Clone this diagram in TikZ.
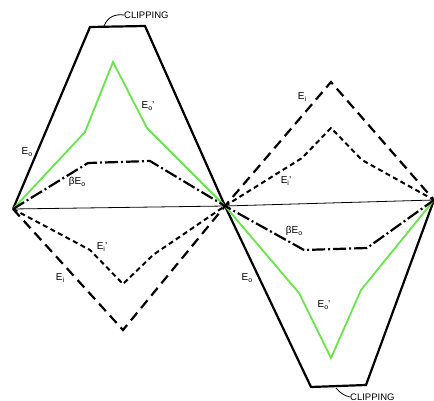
\documentclass[tikz,border=0pt]{standalone}
\usepackage{fontspec}
\setmainfont{Liberation Sans}
\definecolor{lgreen}{RGB}{105,228,75}
\newcommand{\sbo}[1]{\raisebox{-0.35ex}{\fontsize{7}{7}\selectfont #1}}
\begin{document}
\begin{tikzpicture}[x=1pt,y=-1pt,
  solidw/.style={line width=2.2pt,black,line join=miter},
  greenw/.style={line width=1.8pt,lgreen},
  longdash/.style={line width=2.2pt,black,dash pattern=on 10pt off 6pt},
  shortdash/.style={line width=2pt,black,dash pattern=on 5pt off 3.5pt},
  dashdot/.style={line width=2.2pt,black,dash pattern=on 13pt off 3pt on 2pt off 3pt},
  lbl/.style={font=\fontsize{10}{11}\selectfont,inner sep=0pt},
  clbl/.style={font=\fontsize{9.5}{10}\selectfont,inner sep=0pt}]
\useasboundingbox (0,0) rectangle (434,401);
\coordinate (L) at (13,209);
\coordinate (M) at (225,206);
\coordinate (R) at (434,200);
% axis
\draw[line width=0.8pt] (L) -- (M) -- (R);
% E0 solid
\coordinate (a1) at (90,27); \coordinate (a2) at (145,26);
\coordinate (b1) at (311,387); \coordinate (b2) at (366,385);
\draw[solidw] (L) -- (a1) -- (a2) -- (M) -- (b1) -- (b2) -- (R);
% E0' green
\coordinate (g1) at (85,132); \coordinate (g2) at (113,62); \coordinate (g3) at (147,128);
\coordinate (g4) at (299,293); \coordinate (g5) at (331,358); \coordinate (g6) at (361,290);
\draw[greenw] (L) -- (g1) -- (g2) -- (g3) -- (M) -- (g4) -- (g5) -- (g6) -- (R);
% beta E0
\coordinate (d1) at (88,163); \coordinate (d2) at (150,161);
\coordinate (d3) at (304,250); \coordinate (d4) at (367,248);
\draw[dashdot] (L) -- (d1) -- (d2) -- (M) -- (d3) -- (d4) -- (R);
% Ei long dashed
\coordinate (e1) at (123,330); \coordinate (e2) at (331,82);
\draw[longdash] (L) -- (e1) -- (M) -- (e2) -- (R);
% Ei' short dashed
\coordinate (s1) at (90,250); \coordinate (s2) at (123,284); \coordinate (s3) at (153,255);
\coordinate (s4) at (302,158); \coordinate (s5) at (331,128); \coordinate (s6) at (362,160);
\draw[shortdash] (L) -- (s1) -- (s2) -- (s3) -- (M) -- (s4) -- (s5) -- (s6) -- (R);
% labels
\node[clbl,anchor=west] (clip1) at (124,15) {CLIPPING};
\draw[line width=0.8pt] (104,26) .. controls (108,16) and (116,14) .. (clip1.west);
\node[clbl,anchor=west] (clip2) at (350,397) {CLIPPING};
\draw[line width=0.8pt] (336,388) .. controls (340,393) and (345,396) .. (clip2.west);
\node[lbl] (lE0a) at (27,152) {E\sbo{o}};
\node[lbl] (lE0pa) at (148,106) {E\sbo{o}'};
\node[lbl] (lbEa) at (77,182) {βE\sbo{o}};
\node[lbl] (lEia) at (60,278) {E\sbo{i}};
\node[lbl] (lEipa) at (102,247) {E\sbo{i}'};
\node[lbl] (lEib) at (302,97) {E\sbo{i}};
\node[lbl] (lEipb) at (286,181) {E\sbo{i}'};
\node[lbl] (lbEb) at (294,231) {βE\sbo{o}};
\node[lbl] (lE0b) at (247,278) {E\sbo{o}};
\node[lbl] (lE0pb) at (324,305) {E\sbo{o}'};
\end{tikzpicture}
\end{document}
